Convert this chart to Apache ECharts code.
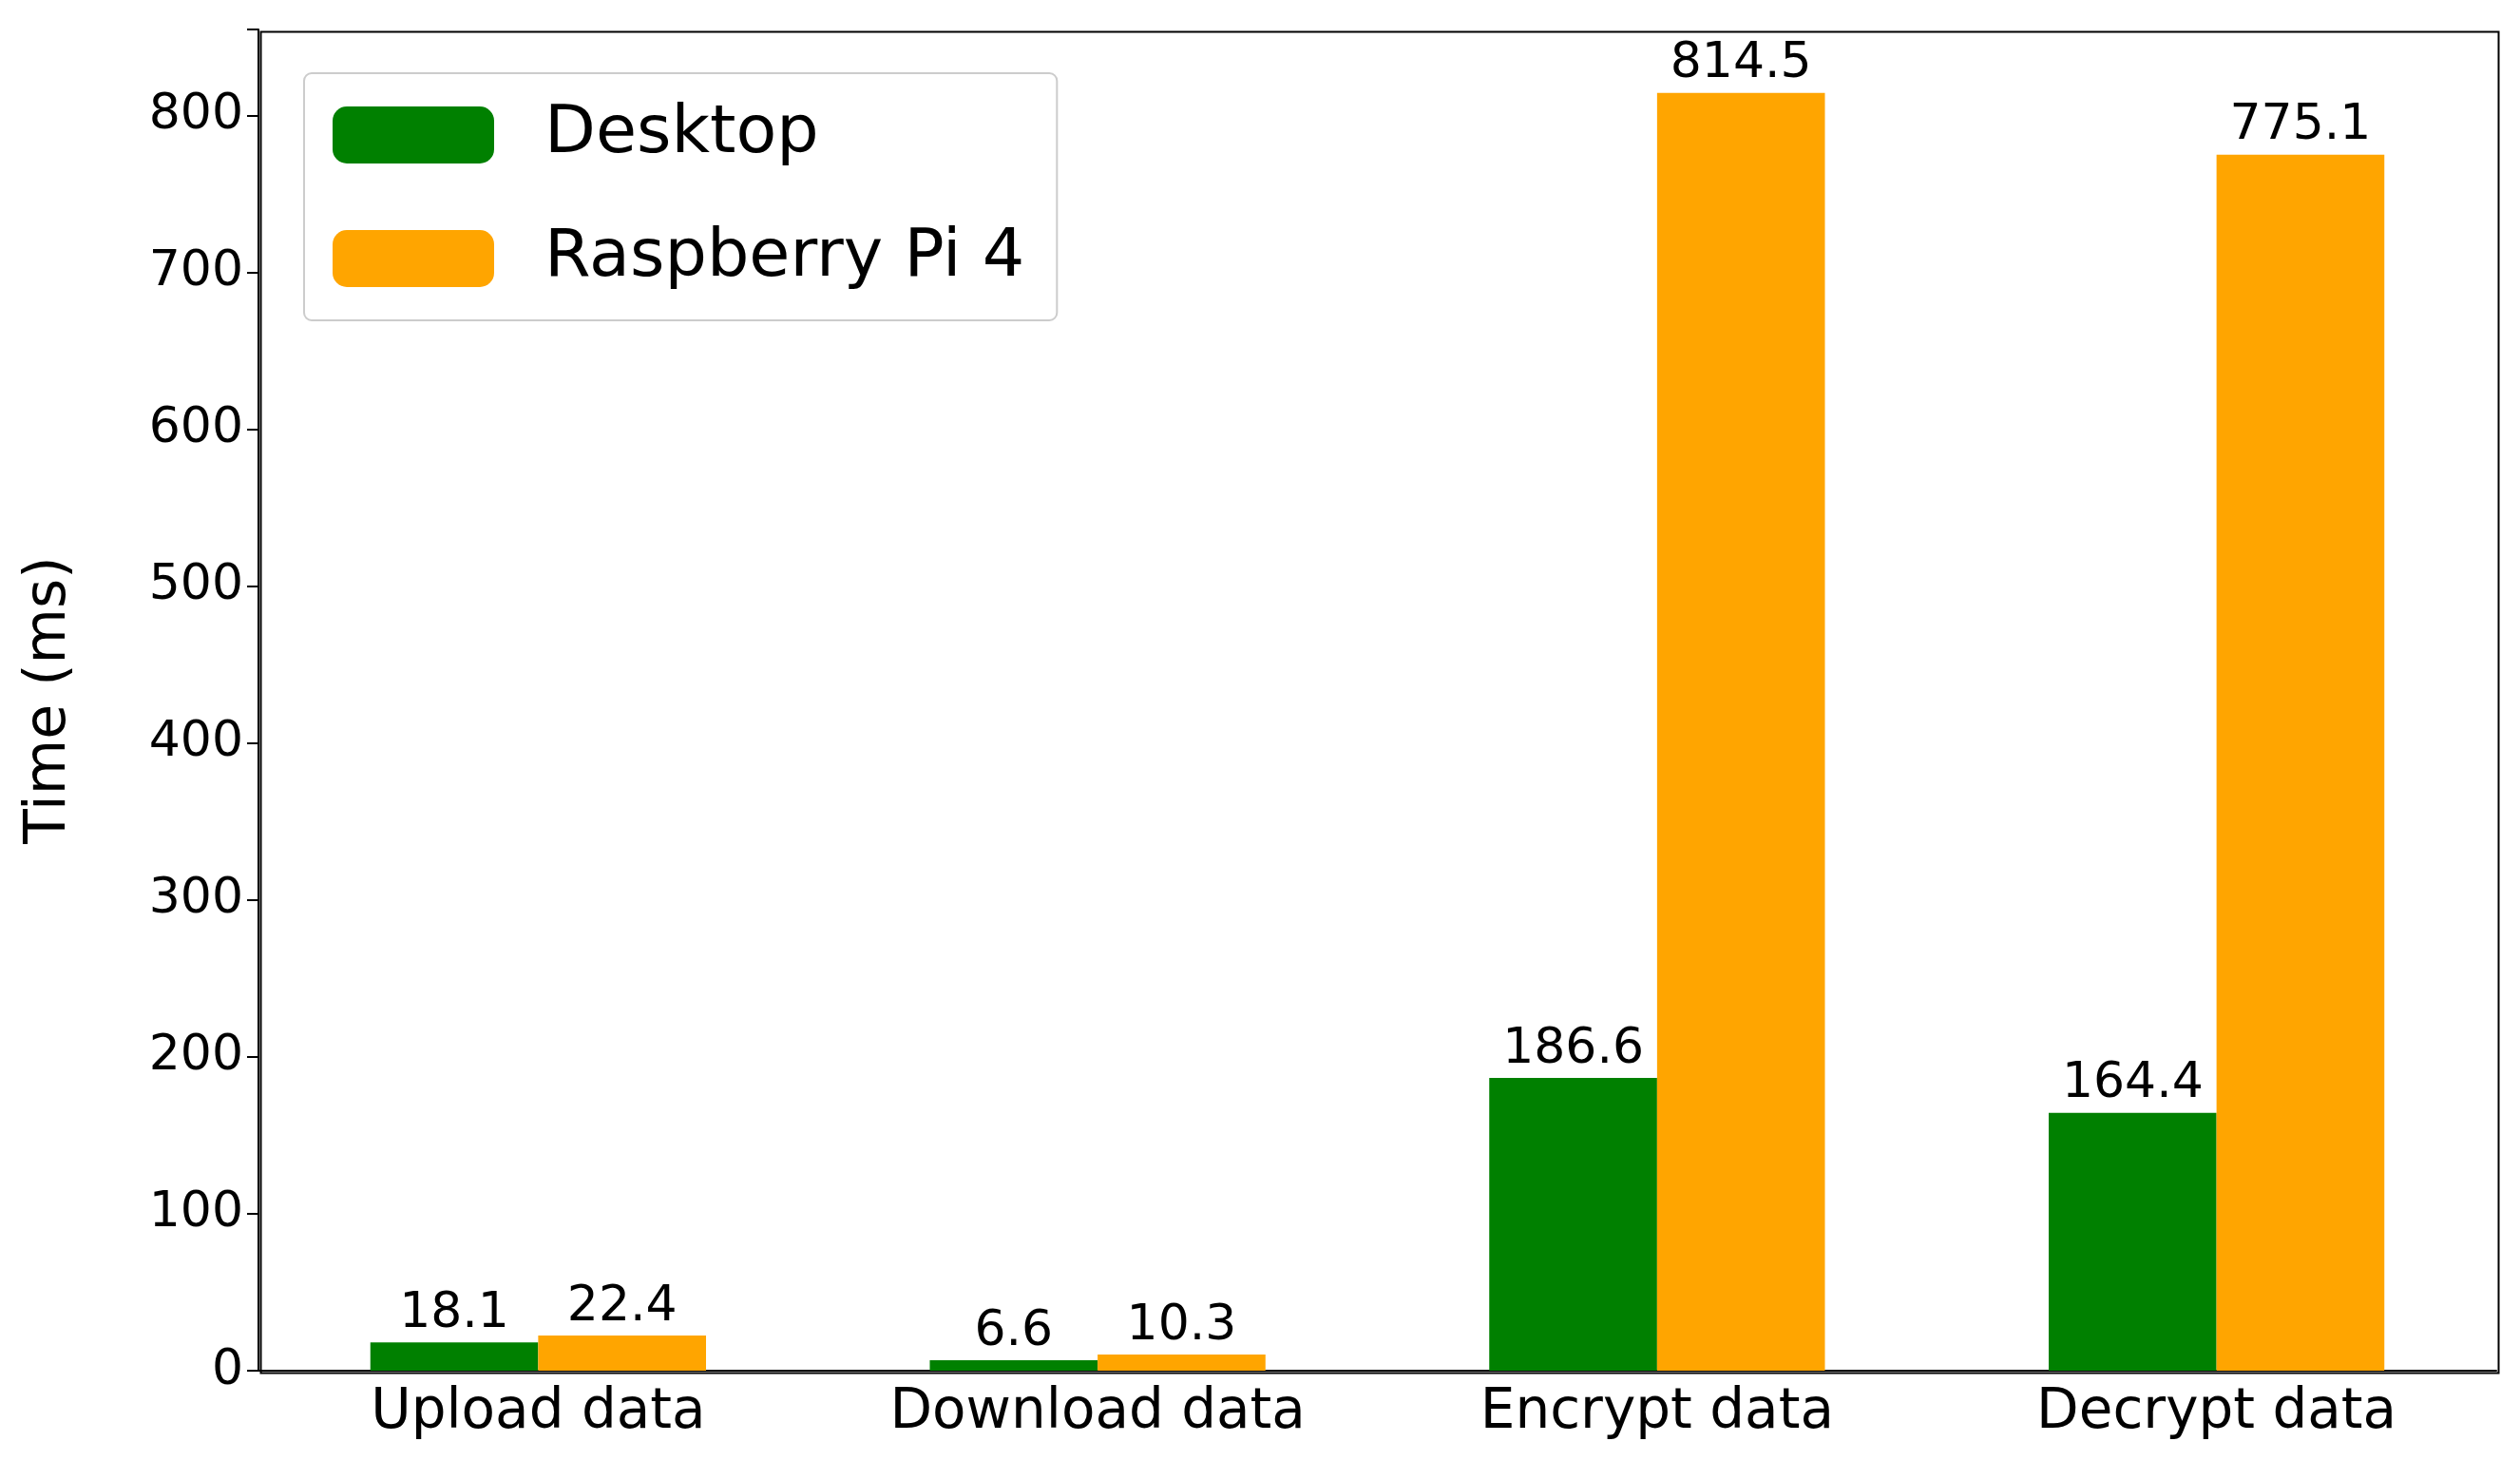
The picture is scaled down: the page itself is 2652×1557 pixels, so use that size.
<!DOCTYPE html>
<html><head><meta charset="utf-8">
<script src="https://cdn.jsdelivr.net/npm/echarts@6/dist/echarts.min.js"></script>
<style>html,body{margin:0;padding:0;background:#fff}#c{width:2652px;height:1557px}</style>
</head><body><div id="c"></div>
<script>
var categories = ['Upload data', 'Download data', 'Encrypt data', 'Decrypt data']
var desktop = [18.1, 6.6, 186.6, 164.4]
var raspberry = [22.4, 10.3, 814.5, 775.1]
var yTicks = [0, 100, 200, 300, 400, 500, 600, 700, 800]

var font = 'DejaVu Sans'
var chart = echarts.init(document.getElementById('c'))

function bar(name, data, color) {
    return {
        name: name, type: 'bar', data: data, barWidth: '30%', barGap: '0%',
        itemStyle: {color: color},
        label: {show: true, position: 'top', distance: 4, color: '#000', fontFamily: font, fontSize: 52,
            formatter: function (p) { return p.value.toFixed(1) }}
    }
}

var option = {
    animation: false,
    textStyle: {fontFamily: font},
    grid: {left: 272, right: 25, top: 31, bottom: 115},
    legend: {
        orient: 'vertical', left: 320, top: 77,
        padding: [30, 34, 30, 30], itemGap: 60,
        itemWidth: 170, itemHeight: 60,
        borderColor: '#ccc', borderWidth: 2, borderRadius: 8,
        textStyle: {fontFamily: font, fontSize: 70, color: '#000', padding: [0, 0, 0, 48]},
        data: ['Desktop', 'Raspberry Pi 4']
    },
    xAxis: {
        type: 'category', data: categories,
        axisLine: {lineStyle: {color: '#000', width: 2}},
        axisTick: {alignWithLabel: true, length: 12, lineStyle: {color: '#000', width: 2}},
        axisLabel: {color: '#000', fontSize: 58, margin: 16}
    },
    yAxis: {
        type: 'value', min: 0, max: 855, interval: 100,
        name: 'Time (ms)', nameLocation: 'middle', nameGap: 190,
        nameTextStyle: {fontSize: 60, color: '#000'},
        splitLine: {show: false},
        axisLine: {show: true, lineStyle: {color: '#000', width: 2}},
        axisTick: {show: true, length: 12, lineStyle: {color: '#000', width: 2}},
        axisLabel: {color: '#000', fontSize: 52, margin: 16,
            formatter: function (v) { return yTicks.indexOf(v) >= 0 ? v : '' }}
    },
    graphic: [{
        type: 'rect', left: 272, top: 31, z: 100, silent: true,
        shape: {width: 2652 - 272 - 25, height: 1557 - 31 - 115},
        style: {fill: 'none', stroke: '#000', lineWidth: 2}
    }],
    series: [bar('Desktop', desktop, '#008000'), bar('Raspberry Pi 4', raspberry, '#ffa500')]
}
chart.setOption(option)
</script></body></html>
